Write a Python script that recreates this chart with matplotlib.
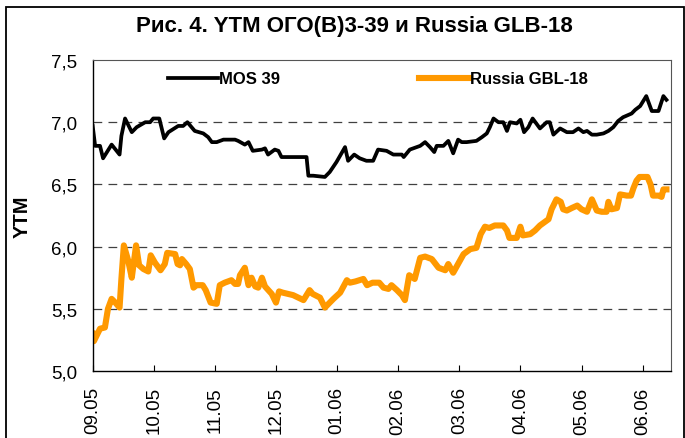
import numpy as np
import matplotlib
matplotlib.use("Agg")
import matplotlib.pyplot as plt
from matplotlib.patches import Rectangle

plt.rcParams['font.family'] = ['Liberation Sans', 'DejaVu Sans']

# x = months since start of 09.05
mos_x = [0.00, 0.04, 0.12, 0.17, 0.31, 0.44, 0.47, 0.53, 0.64, 0.72, 0.86, 0.94, 0.99, 1.09,
         1.17, 1.24, 1.40, 1.48, 1.55, 1.67, 1.81, 1.89, 1.95, 2.03, 2.14, 2.33, 2.38, 2.49,
         2.55, 2.62, 2.77, 2.82, 2.87, 2.98, 3.04, 3.09, 3.50, 3.53, 3.61, 3.80, 3.88, 3.99,
         4.13, 4.18, 4.28, 4.37, 4.48, 4.59, 4.67, 4.81, 4.92, 5.06, 5.09, 5.19, 5.36, 5.44,
         5.52, 5.59, 5.63, 5.74, 5.82, 5.90, 5.98, 6.04, 6.12, 6.28, 6.37, 6.45, 6.50, 6.56,
         6.64, 6.72, 6.78, 6.83, 6.94, 7.00, 7.06, 7.13, 7.20, 7.32, 7.43, 7.48, 7.54, 7.65,
         7.76, 7.86, 7.95, 8.03, 8.09, 8.17, 8.25, 8.36, 8.44, 8.52, 8.60, 8.68, 8.82, 8.88,
         8.96, 9.06, 9.15, 9.26, 9.34, 9.39]
mos_y = [6.97, 6.81, 6.81, 6.71, 6.82, 6.74, 6.89, 7.03, 6.92, 6.96, 7.00, 7.00, 7.03, 7.03,
         6.87, 6.92, 6.97, 6.97, 7.00, 6.93, 6.91, 6.88, 6.84, 6.84, 6.86, 6.86, 6.85, 6.82,
         6.84, 6.77, 6.78, 6.79, 6.74, 6.78, 6.77, 6.72, 6.72, 6.57, 6.57, 6.56, 6.60, 6.68,
         6.80, 6.69, 6.74, 6.71, 6.69, 6.69, 6.78, 6.77, 6.74, 6.74, 6.72, 6.78, 6.81, 6.84,
         6.80, 6.76, 6.81, 6.81, 6.85, 6.75, 6.86, 6.84, 6.84, 6.85, 6.88, 6.91, 6.96, 7.03,
         7.00, 7.00, 6.93, 7.00, 6.99, 7.02, 6.92, 6.96, 7.03, 6.95, 7.00, 7.00, 6.90, 6.95,
         6.92, 6.92, 6.95, 6.92, 6.93, 6.90, 6.90, 6.91, 6.93, 6.96, 7.01, 7.04, 7.07, 7.10,
         7.13, 7.21, 7.09, 7.09, 7.21, 7.18]

rus_x = [0.00, 0.02, 0.04, 0.12, 0.20, 0.25, 0.31, 0.37, 0.44, 0.47, 0.51, 0.58, 0.64, 0.71,
         0.76, 0.83, 0.91, 0.95, 1.02, 1.11, 1.18, 1.22, 1.35, 1.39, 1.43, 1.46, 1.53, 1.59,
         1.65, 1.70, 1.80, 1.85, 1.93, 2.03, 2.08, 2.16, 2.27, 2.33, 2.38, 2.41, 2.49, 2.55,
         2.60, 2.66, 2.71, 2.77, 2.82, 2.93, 3.00, 3.05, 3.11, 3.28, 3.45, 3.55, 3.60, 3.72,
         3.80, 3.94, 4.05, 4.16, 4.21, 4.30, 4.43, 4.49, 4.58, 4.69, 4.76, 4.84, 4.89, 4.98,
         5.06, 5.11, 5.18, 5.27, 5.36, 5.44, 5.55, 5.66, 5.77, 5.82, 5.90, 5.98, 6.07, 6.18,
         6.28, 6.35, 6.42, 6.49, 6.58, 6.72, 6.78, 6.82, 6.94, 7.00, 7.04, 7.16, 7.24, 7.32,
         7.46, 7.51, 7.59, 7.66, 7.70, 7.76, 7.84, 7.93, 8.00, 8.09, 8.17, 8.25, 8.33, 8.41,
         8.44, 8.49, 8.58, 8.63, 8.74, 8.81, 8.85, 8.90, 8.95, 9.08, 9.13, 9.17, 9.26, 9.31,
         9.34, 9.39]
rus_y = [5.30, 5.24, 5.26, 5.34, 5.35, 5.50, 5.58, 5.55, 5.51, 5.74, 6.01, 5.89, 5.75, 6.01,
         5.85, 5.82, 5.80, 5.93, 5.87, 5.81, 5.86, 5.95, 5.94, 5.86, 5.85, 5.90, 5.86, 5.82,
         5.67, 5.69, 5.69, 5.65, 5.55, 5.54, 5.69, 5.71, 5.73, 5.70, 5.70, 5.77, 5.83, 5.69,
         5.75, 5.68, 5.67, 5.75, 5.68, 5.62, 5.55, 5.64, 5.63, 5.61, 5.57, 5.65, 5.62, 5.59,
         5.51, 5.58, 5.63, 5.73, 5.71, 5.72, 5.74, 5.69, 5.71, 5.71, 5.67, 5.66, 5.69, 5.65,
         5.61, 5.57, 5.77, 5.74, 5.91, 5.92, 5.90, 5.83, 5.81, 5.86, 5.79, 5.86, 5.94, 5.98,
         5.99, 6.10, 6.16, 6.15, 6.17, 6.17, 6.13, 6.07, 6.07, 6.16, 6.09, 6.10, 6.13, 6.17,
         6.22, 6.30, 6.38, 6.36, 6.30, 6.29, 6.31, 6.33, 6.30, 6.28, 6.38, 6.29, 6.28, 6.28,
         6.36, 6.30, 6.31, 6.42, 6.41, 6.41, 6.47, 6.53, 6.56, 6.56, 6.50, 6.41, 6.41, 6.40,
         6.46, 6.46]

month_labels = ['09.05', '10.05', '11.05', '12.05', '01.06', '02.06', '03.06', '04.06', '05.06', '06.06']
y_ticks = [5.0, 5.5, 6.0, 6.5, 7.0, 7.5]

fig = plt.figure(figsize=(6.85, 4.39), dpi=100)
ax = fig.add_axes([0.1353, 0.1526, 0.8443, 0.7084])

for y in y_ticks[1:-1]:
    ax.axhline(y, color='#404040', lw=0.9, dashes=(7, 5), zorder=1)

ax.plot(mos_x, mos_y, color='black', lw=2.7, label='MOS 39', zorder=3)
ax.plot(rus_x, rus_y, color='#FF9900', lw=4.4, label='Russia GBL-18', zorder=2,
        solid_joinstyle='round')

ax.set_xlim(0, 9.465)
ax.set_ylim(5.0, 7.5)
ax.set_xticks(range(len(month_labels)))
ax.set_xticklabels(month_labels, rotation=90, fontsize=13.5)
ax.set_yticks(y_ticks)
ax.set_yticklabels([f'{v:.1f}'.replace('.', ',') for v in y_ticks], fontsize=13.5)
ax.tick_params(axis='x', direction='in', length=4, width=0.8, pad=11)
ax.tick_params(axis='y', length=0, pad=11)
for s in ['top', 'right']:
    ax.spines[s].set_color('#555555')
    ax.spines[s].set_linewidth(0.8)
for s in ['left', 'bottom']:
    ax.spines[s].set_linewidth(1.0)

ax.set_ylabel('YTM', fontsize=14.5, fontweight='bold')
ax.yaxis.set_label_coords(-0.105, 0.5)

ax.legend(loc='upper left', bbox_to_anchor=(0.115, 0.99), ncol=2, frameon=False,
          borderpad=0, handlelength=3.0, handletextpad=0.1, columnspacing=8.3,
          prop={'weight': 'bold', 'size': 12})

fig.text(0.517, 0.939, 'Рис. 4. YTM ОГО(В)3-39 и Russia GLB-18', ha='center', va='center',
         fontsize=16, fontweight='bold')

fig.patches.append(Rectangle((6 / 685, -0.01), 678 / 685, 1.01 - 8 / 439, fill=False,
                             edgecolor='black', lw=1.3, transform=fig.transFigure))

fig.savefig('out.png', dpi=100)
